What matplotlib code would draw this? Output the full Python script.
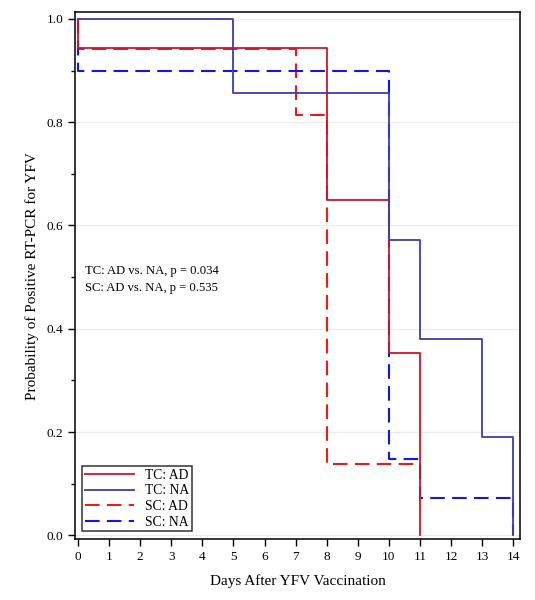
import matplotlib
matplotlib.use("Agg")
import matplotlib.pyplot as plt
from matplotlib.ticker import MultipleLocator

plt.rcParams["font.family"] = ["Liberation Serif", "DejaVu Serif"]

# step curves: x = day of change, y = value from that day on
tc_ad_x = [0, 0, 8, 10, 11, 11]
tc_ad_y = [1.0, 0.944, 0.649, 0.353, 0.353, 0.0]

tc_na_x = [0, 5, 10, 11, 13, 14, 14]
tc_na_y = [1.0, 0.857, 0.571, 0.381, 0.190, 0.190, 0.0]

sc_ad_x = [0, 0, 7, 8, 11]
sc_ad_y = [1.0, 0.941, 0.813, 0.138, 0.138]

sc_na_x = [0, 0, 10, 11, 14, 14]
sc_na_y = [1.0, 0.900, 0.148, 0.073, 0.073, 0.0]

labels = ["TC: AD", "TC: NA", "SC: AD", "SC: NA"]
p_text = ["TC: AD vs. NA, p = 0.034", "SC: AD vs. NA, p = 0.535"]
day_ticks = list(range(0, 15))

fig = plt.figure(figsize=(5.35, 6.0), dpi=100)
ax = fig.add_axes([0.140, 0.1017, 0.832, 0.878])

ax.grid(True, axis="y", color="#ececec", linewidth=0.9, zorder=0)
ax.set_axisbelow(True)

ax.plot(tc_ad_x, tc_ad_y, drawstyle="steps-post", color="#D0142C",
        linewidth=1.3, label=labels[0], zorder=3)
ax.plot(tc_na_x, tc_na_y, drawstyle="steps-post", color="#3C3CB4",
        linewidth=1.3, label=labels[1], zorder=3)
ax.plot(sc_ad_x, sc_ad_y, drawstyle="steps-post", color="#F01818",
        linewidth=1.5, linestyle=(0, (7, 3.5)), label=labels[2], zorder=2)
ax.plot(sc_na_x, sc_na_y, drawstyle="steps-post", color="#1414E6",
        linewidth=1.5, linestyle=(0, (7, 3.5)), label=labels[3], zorder=2)

ax.text(0.22, 0.511, p_text[0], fontsize=9.1, va="center", ha="left")
ax.text(0.22, 0.479, p_text[1], fontsize=9.1, va="center", ha="left")

ax.set_xlim(-0.1, 14.22)
ax.set_ylim(-0.007, 1.013)
ax.set_xticks(day_ticks)
ax.yaxis.set_major_locator(MultipleLocator(0.2))
ax.yaxis.set_minor_locator(MultipleLocator(0.1))
ax.yaxis.set_major_formatter(matplotlib.ticker.FormatStrFormatter("%.1f"))
ax.tick_params(axis="both", which="major", direction="out", length=5,
               width=1.0, labelsize=9.5)
ax.tick_params(axis="y", which="minor", direction="out", length=3, width=1.0)

for sp in ax.spines.values():
    sp.set_linewidth(1.1)

ax.set_xlabel("Days After YFV Vaccination", fontsize=11, labelpad=8)
ax.set_ylabel("Probability of Positive RT-PCR for YFV", fontsize=11, labelpad=5)

leg = ax.legend(loc="lower left", fontsize=9.8, frameon=True, fancybox=False,
                edgecolor="black", handlelength=3.6, borderpad=0.2,
                labelspacing=0.2, handletextpad=0.8,
                bbox_to_anchor=(0.0, 0.0), borderaxespad=0.55)
leg.get_frame().set_linewidth(1.1)

fig.savefig("out.png", dpi=100)
